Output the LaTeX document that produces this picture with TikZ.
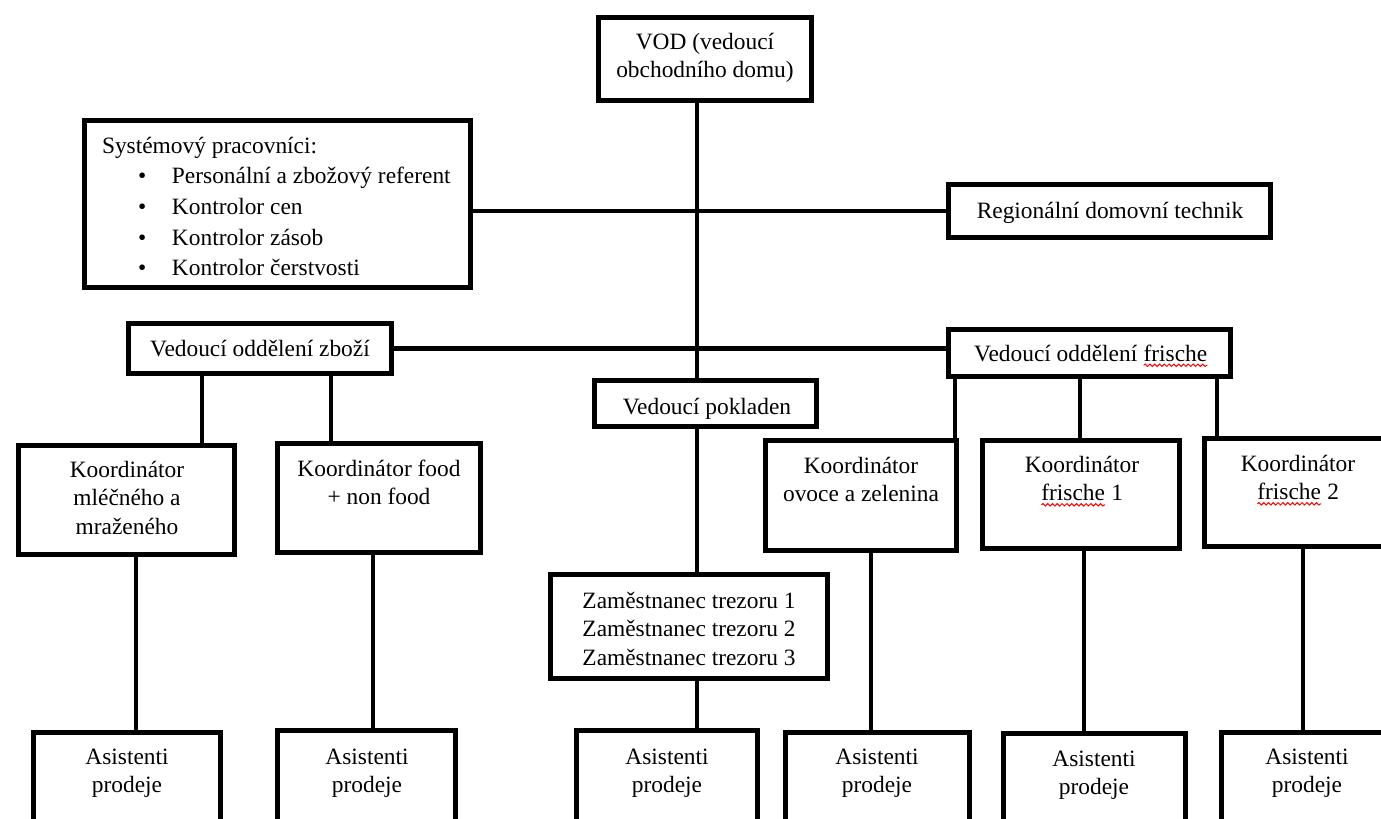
\documentclass[tikz,border=0pt]{standalone}
\usepackage{fontspec}
\setmainfont{Liberation Serif}
\usetikzlibrary{decorations.pathmorphing}
\newcommand\fs{\rule{0pt}{14pt}}
\newcommand\wv[2]{\tikz[baseline=(#1.base)]{\node[inner sep=0pt,outer sep=0pt] (#1) {#2};\draw[red, line width=0.75pt, decorate, decoration={snake,amplitude=0.9pt,segment length=3.6pt}] ([yshift=-3.2pt]#1.base west) -- ([yshift=-3.2pt]#1.base east);}}
\newcommand\mkbox[5]{%
  \pgfmathsetmacro\mybw{(#4-#2-5)*0.75}%
  \pgfmathsetmacro\mybh{(#5-#3-5)*0.75}%
  \node[orgbox, minimum width=\mybw pt, minimum height=\mybh pt] (#1) at ({(#2+#4)/2},{(#3+#5)/2}) {};}
\newcommand\mktxt[4]{\node[txt, anchor=north] (#1) at ({#2},{#3-18.67}) {\fs #4};}
\tikzset{
  orgbox/.style={draw=black, line width=3.75pt, fill=white, inner sep=0pt},
  txt/.style={inner sep=0pt, outer sep=0pt, align=center, font=\fontsize{17.55pt}{21.4pt}\selectfont},
  conn/.style={draw=black, line width=3.6pt}
}
\begin{document}
\begin{tikzpicture}[x=0.75pt,y=-0.75pt]
\useasboundingbox (0,0) rectangle (1381,818);
\fill[white] (0,0) rectangle (1381,818);
\clip (0,0) rectangle (1381,818);
% column coordinates
\coordinate (cMain) at (697,0);
\coordinate (cZa) at (202,0);
\coordinate (cZb) at (331,0);
\coordinate (cML) at (136,0);
\coordinate (cFO) at (373,0);
\coordinate (cFa) at (955,0);
\coordinate (cFb) at (1080,0);
\coordinate (cFc) at (1217,0);
\coordinate (cOV) at (871,0);
\coordinate (cKa) at (1084,0);
\coordinate (cKb) at (1303,0);
% boxes
\mkbox{vod}{596}{15}{814}{103}
\mkbox{sys}{82}{118}{473}{290}
\mkbox{reg}{946}{182}{1273}{240}
\mkbox{zbozi}{126}{321}{394}{376}
\mkbox{fri}{946}{327}{1233}{379}
\mkbox{pokl}{592}{378}{819}{429}
\mkbox{kml}{16}{443}{237}{557}
\mkbox{kfo}{275}{441}{483}{555}
\mkbox{kov}{763}{438}{959}{553}
\mkbox{kfa}{980}{438}{1182}{551}
\mkbox{kfb}{1202}{436}{1394}{549}
\mkbox{zam}{548}{572}{830}{681}
\mkbox{asa}{31}{730}{223}{850}
\mkbox{asb}{275}{728}{458}{850}
\mkbox{asc}{574}{728}{760}{850}
\mkbox{asd}{783}{730}{972}{850}
\mkbox{ase}{1001}{731}{1188}{850}
\mkbox{asf}{1219}{730}{1395}{850}
% connectors
\draw[conn] (vod.south -| cMain) -- (pokl.north -| cMain);
\draw[conn] (sys.east |- reg.west) -- (reg.west);
\draw[conn] (zbozi.east) -- (fri.west |- zbozi.east);
\draw[conn] (pokl.south -| cMain) -- (zam.north -| cMain);
\draw[conn] (zam.south -| cMain) -- (asc.north -| cMain);
\draw[conn] (zbozi.south -| cZa) -- (kml.north -| cZa);
\draw[conn] (zbozi.south -| cZb) -- (kfo.north -| cZb);
\draw[conn] (kml.south -| cML) -- (asa.north -| cML);
\draw[conn] (kfo.south -| cFO) -- (asb.north -| cFO);
\draw[conn] (fri.south -| cFa) -- (kov.north -| cFa);
\draw[conn] (fri.south -| cFb) -- (kfa.north -| cFb);
\draw[conn] (fri.south -| cFc) -- (kfb.north -| cFc);
\draw[conn] (kov.south -| cOV) -- (asd.north -| cOV);
\draw[conn] (kfa.south -| cKa) -- (ase.north -| cKa);
\draw[conn] (kfb.south -| cKb) -- (asf.north -| cKb);
% texts
\mktxt{vodT}{705}{49}{VOD (vedoucí\\obchodního domu)}
\node[txt, align=left, anchor=north west, font=\fontsize{17.55pt}{23pt}\selectfont] (sysT) at (102,{153-18.67})
  {\fs Systémový pracovníci:\\
   \hspace*{27pt}\makebox[25.5pt][l]{\textbullet}Personální a zbožový referent\\
   \hspace*{27pt}\makebox[25.5pt][l]{\textbullet}Kontrolor cen\\
   \hspace*{27pt}\makebox[25.5pt][l]{\textbullet}Kontrolor zásob\\
   \hspace*{27pt}\makebox[25.5pt][l]{\textbullet}Kontrolor čerstvosti};
\mktxt{regT}{1110}{218}{Regionální domovní technik}
\mktxt{zboziT}{260}{356}{Vedoucí oddělení zboží}
\mktxt{friT}{1091}{361}{Vedoucí oddělení \wv{wa}{frische}}
\mktxt{poklT}{707}{414}{Vedoucí pokladen}
\mktxt{kmlT}{127}{477}{Koordinátor\\mléčného a\\mraženého}
\mktxt{kfoT}{379}{476}{Koordinátor food\\+ non food}
\mktxt{kovT}{861}{473}{Koordinátor\\ovoce a zelenina}
\mktxt{kfaT}{1082}{472}{Koordinátor\\\wv{wb}{frische} 1}
\mktxt{kfbT}{1298}{471}{Koordinátor\\\wv{wc}{frische} 2}
\mktxt{zamT}{689}{608}{Zaměstnanec trezoru 1\\Zaměstnanec trezoru 2\\Zaměstnanec trezoru 3}
\mktxt{asaT}{127}{764}{Asistenti\\prodeje}
\mktxt{asbT}{367}{764}{Asistenti\\prodeje}
\mktxt{ascT}{667}{764}{Asistenti\\prodeje}
\mktxt{asdT}{877}{764}{Asistenti\\prodeje}
\mktxt{aseT}{1094}{766}{Asistenti\\prodeje}
\mktxt{asfT}{1307}{764}{Asistenti\\prodeje}
\end{tikzpicture}
\end{document}
